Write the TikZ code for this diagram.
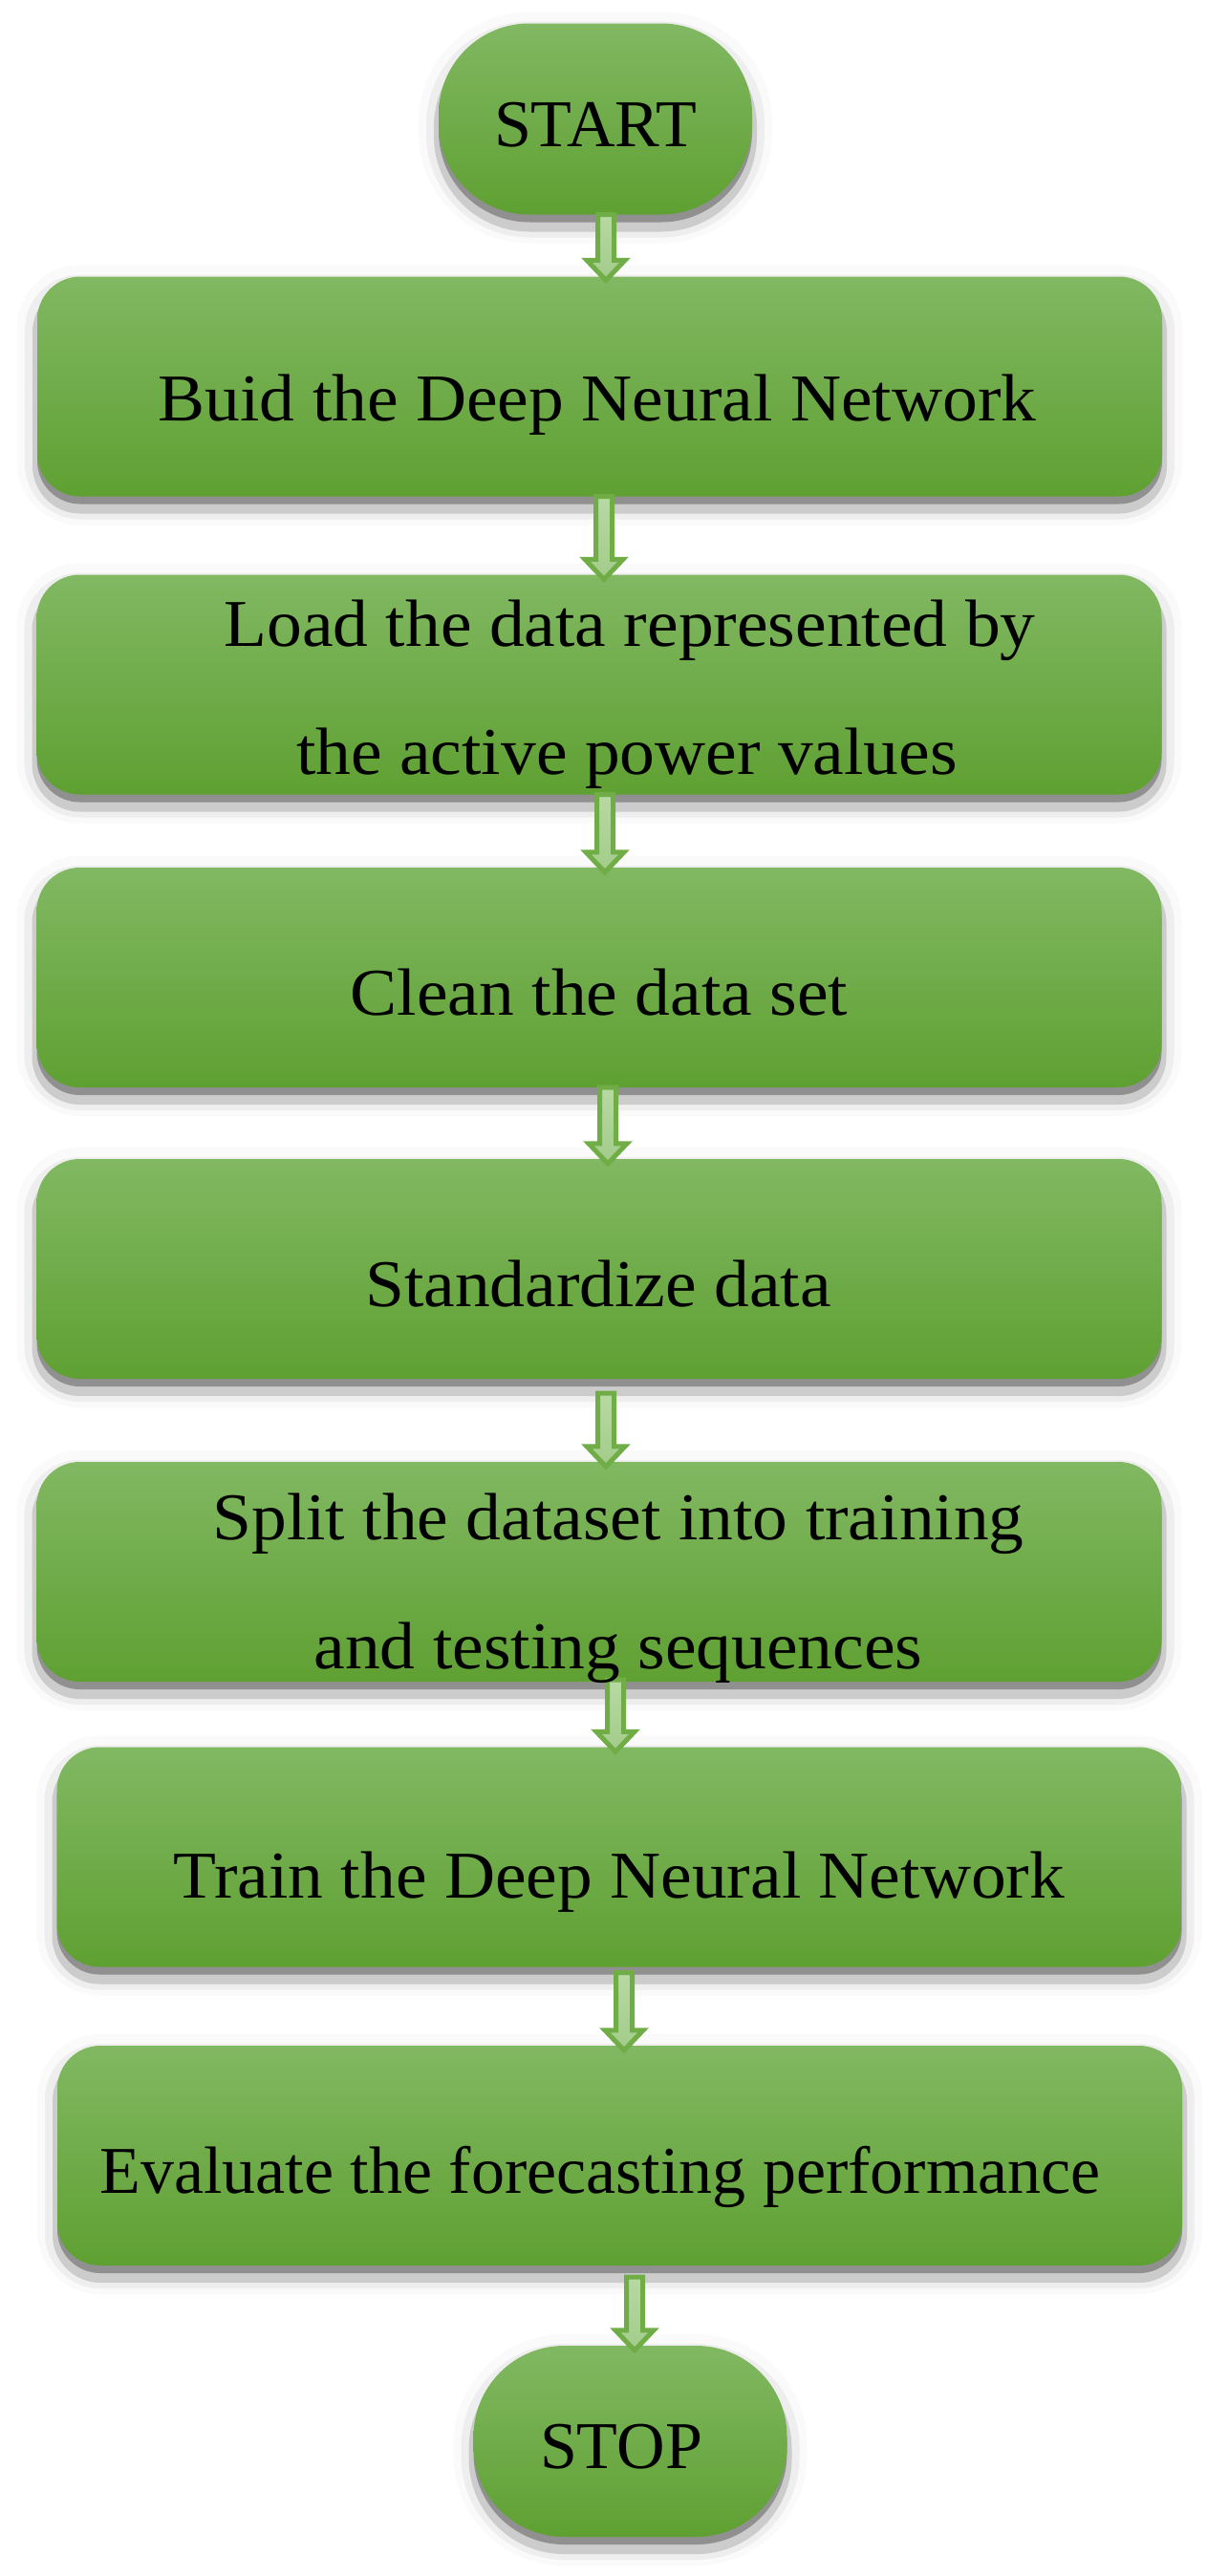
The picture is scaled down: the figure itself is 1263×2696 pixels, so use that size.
\documentclass[tikz,border=0pt]{standalone}
\usepackage{fontspec}
\setmainfont{Liberation Serif}[FakeStretch=1.05]
\newfontfamily\capsfont{Liberation Serif}
\usetikzlibrary{calc}
\definecolor{gtop}{HTML}{81B862}
\definecolor{gbot}{HTML}{5FA032}
\definecolor{aline}{HTML}{70AD47}
\definecolor{atop}{HTML}{B7D9A3}
\definecolor{abot}{HTML}{A2CC8A}
\definecolor{shA}{HTML}{FAFAFA}
\definecolor{shAA}{HTML}{EEEEEE}
\definecolor{shB}{HTML}{CCCCCC}
\definecolor{shC}{HTML}{909090}
\tikzset{
  softshadow/.style={
    preaction={draw=shA, fill=shA, line width=42pt, transform canvas={yshift=-9pt}},
    preaction={draw=shAA, fill=shAA, line width=26pt, transform canvas={yshift=-11pt}},
    preaction={draw=shB, fill=shB, line width=10pt, transform canvas={yshift=-13pt}},
    preaction={fill=shC, transform canvas={yshift=-8pt}}},
  greenfill/.style={top color=gtop, bottom color=gbot, draw=none},
  stepbox/.style={rectangle, rounded corners=45pt, minimum width=1177pt, minimum height=230pt, inner sep=0pt, softshadow, greenfill},
  terminal/.style={rectangle, rounded corners=95pt, minimum width=328pt, minimum height=200pt, inner sep=0pt, softshadow, greenfill},
  lbltxt/.style={anchor=base, inner sep=0pt, text=black, font=\fontsize{70}{80}\selectfont},
  capstxt/.style={anchor=base, inner sep=0pt, text=black, font=\capsfont\fontsize{70}{80}\selectfont},
  blockarr/.style={draw=aline, line width=5pt, top color=atop, bottom color=abot, line join=miter}
}
\newcommand{\blockarrow}[2]{%
  \path[blockarr] let \p1=(#1), \p2=(#2) in
    (\x1-8.5pt,\y1) -- (\x1-8.5pt,\y2+21pt) -- (\x1-20pt,\y2+21pt) -- (\x1,\y2)
    -- (\x1+20pt,\y2+21pt) -- (\x1+8.5pt,\y2+21pt) -- (\x1+8.5pt,\y1) -- cycle;}
\begin{document}
\begin{tikzpicture}[x=1pt, y=-1pt]
\useasboundingbox[fill=white] (0,0) rectangle (1263,2696);

% shapes
\node[terminal] (start) at (623,124.5) {};
\node[stepbox] (b1) at (627.5,404.5) {};
\node[stepbox] (b2) at (627,716.5) {};
\node[stepbox] (b3) at (627,1023) {};
\node[stepbox] (b4) at (627,1328) {};
\node[stepbox] (b5) at (627,1645) {};
\node[stepbox] (b6) at (648,1943.5) {};
\node[stepbox] (b7) at (648.5,2256) {};
\node[terminal] (stop) at (659.5,2555) {};

% connectors
\blockarrow{$(start.south)+(11,0)$}{$(b1.north)+(0,4)$}
\blockarrow{$(b1.south)+(4.5,0)$}{$(b2.north)+(0,5)$}
\blockarrow{$(b2.south)+(6,0)$}{$(b3.north)+(0,5)$}
\blockarrow{$(b3.south)+(9,0)$}{$(b4.north)+(0,5)$}
\blockarrow{$(b4.south)+(7,15)$}{$(b5.north)+(0,5)$}
\blockarrow{$(b5.south)+(17,-2)$}{$(b6.north)+(0,5)$}
\blockarrow{$(b6.south)+(5,6)$}{$(b7.north)+(0,5)$}
\blockarrow{$(b7.south)+(15.5,12)$}{$(stop.north)+(0,5)$}

% texts
\node[capstxt] (tstart) at (623,153) {START};
\node[lbltxt] (t1) at (625,440) {Buid the Deep Neural Network};
\node[lbltxt] (t2a) at (659,676) {Load the data represented by};
\node[lbltxt] (t2b) at (656,810) {the active power values};
\node[lbltxt] (t3) at (627,1062) {Clean the data set};
\node[lbltxt] (t4) at (626,1367) {Standardize data};
\node[lbltxt] (t5a) at (647,1611) {Split the dataset into training};
\node[lbltxt] (t5b) at (647,1746) {and testing sequences};
\node[lbltxt] (t6) at (648,1986) {Train the Deep Neural Network};
\node[capstxt] (t7) at (628,2295) {Evaluate the forecasting performance};
\node[capstxt] (tstop) at (650,2583) {STOP};
\end{tikzpicture}
\end{document}
